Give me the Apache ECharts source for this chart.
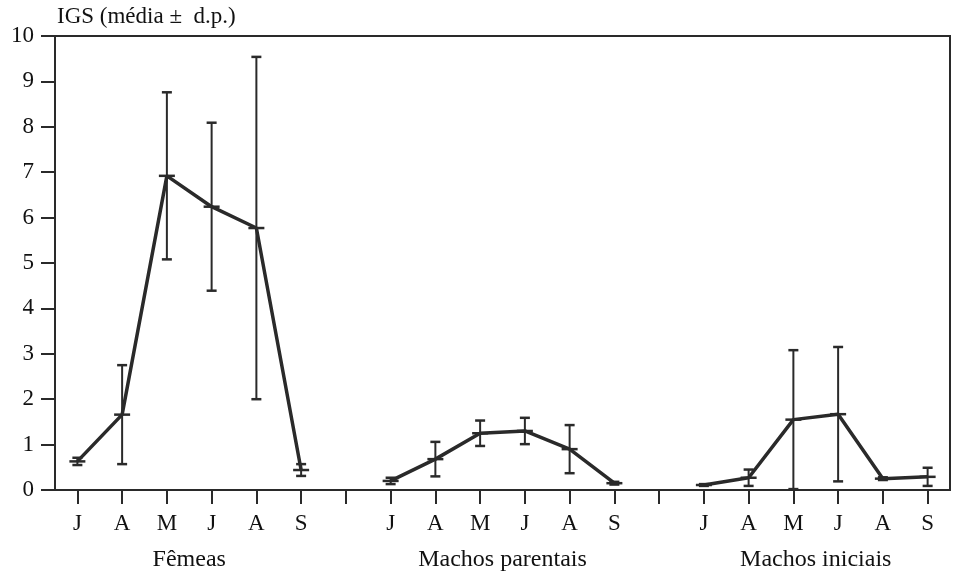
<!DOCTYPE html>
<html>
<head>
<meta charset="utf-8">
<script src="https://cdn.jsdelivr.net/npm/echarts@6/dist/echarts.min.js"></script>
<style>
  html, body { margin: 0; padding: 0; background: #fff; }
  #chart { width: 953px; height: 578px; }
</style>
</head>
<body>
<div id="chart"></div>
<script>
// Months shown under each group
const months = ['J', 'A', 'M', 'J', 'A', 'S'];
const groups = ['Fêmeas', 'Machos parentais', 'Machos iniciais'];

// IGS mean and standard deviation per month
const femeasMean = [0.63, 1.66, 6.92, 6.24, 5.77, 0.44];
const femeasSd = [0.08, 1.09, 1.84, 1.85, 3.77, 0.13];
const parentaisMean = [0.20, 0.68, 1.25, 1.30, 0.90, 0.15];
const parentaisSd = [0.07, 0.38, 0.28, 0.29, 0.53, 0.03];
const iniciaisMean = [0.11, 0.27, 1.55, 1.67, 0.25, 0.29];
const iniciaisSd = [0.02, 0.18, 1.53, 1.48, 0.03, 0.20];

const yTicks = [0, 1, 2, 3, 4, 5, 6, 7, 8, 9, 10];

const FONT = '"Liberation Serif", "DejaVu Serif", serif';
const INK = '#2a2a2a';

// each group takes 6 slots plus one empty slot as separator
const slot = (g, i) => g * 7 + i + 1;
const allSlots = [];
const labelSlots = [];
groups.forEach((g, gi) => {
    months.forEach((m, i) => labelSlots.push(slot(gi, i)));
});
for (let s = 1; s <= groups.length * 7 - 1; s++) allSlots.push(s);
const groupCenters = groups.map((g, gi) => (slot(gi, 0) + slot(gi, months.length - 1)) / 2);

const seriesSets = [
    [femeasMean, femeasSd],
    [parentaisMean, parentaisSd],
    [iniciaisMean, iniciaisSd],
];

const series = [];
seriesSets.forEach(([mean, sd], gi) => {
    series.push({
        type: 'line',
        data: mean.map((v, i) => [slot(gi, i), v]),
        symbol: 'none',
        lineStyle: { color: INK, width: 3.5 },
        z: 3,
    });
    series.push({
        type: 'custom',
        data: mean.map((v, i) => [slot(gi, i), v, v - sd[i], v + sd[i]]),
        renderItem: (params, api) => {
            const x = api.value(0);
            const mid = api.coord([x, api.value(1)]);
            const lo = api.coord([x, Math.max(0, api.value(2))]);
            const hi = api.coord([x, api.value(3)]);
            const cap = 5;
            const dash = 8;
            const style = { stroke: INK, lineWidth: 2 };
            const bold = { stroke: INK, lineWidth: 2.5 };
            return {
                type: 'group',
                children: [
                    { type: 'line', shape: { x1: lo[0], y1: lo[1], x2: hi[0], y2: hi[1] }, style },
                    { type: 'line', shape: { x1: hi[0] - cap, y1: hi[1], x2: hi[0] + cap, y2: hi[1] }, style: bold },
                    { type: 'line', shape: { x1: lo[0] - cap, y1: lo[1], x2: lo[0] + cap, y2: lo[1] }, style: bold },
                    { type: 'line', shape: { x1: mid[0] - dash, y1: mid[1], x2: mid[0] + dash, y2: mid[1] }, style: bold },
                ],
            };
        },
        z: 4,
    });
});

const chart = echarts.init(document.getElementById('chart'));
const xMin = 0.5;
const xMax = groups.length * 7 - 0.5;

chart.setOption({
    backgroundColor: '#fff',
    animation: false,
    grid: {
        left: 55, right: 3, top: 36, bottom: 88,
        show: true, borderColor: INK, borderWidth: 2,
    },
    xAxis: [{
        type: 'value',
        min: xMin,
        max: xMax,
        axisLine: { lineStyle: { color: INK, width: 2 } },
        splitLine: { show: false },
        axisTick: {
            customValues: allSlots,
            length: 14,
            lineStyle: { color: INK, width: 2 },
        },
        axisLabel: {
            customValues: labelSlots,
            formatter: (v) => months[(Math.round(v) - 1) % 7],
            margin: 22,
            color: '#111',
            fontFamily: FONT,
            fontSize: 23,
        },
    }, {
        type: 'value',
        position: 'bottom',
        min: xMin,
        max: xMax,
        axisLine: { show: false },
        axisTick: { show: false },
        splitLine: { show: false },
        axisLabel: {
            customValues: groupCenters,
            formatter: (v) => groups[groupCenters.indexOf(v)],
            margin: 58,
            color: '#111',
            fontFamily: FONT,
            fontSize: 24,
        },
    }],
    yAxis: {
        type: 'value',
        min: yTicks[0],
        max: yTicks[yTicks.length - 1],
        interval: 1,
        name: 'IGS (média ±  d.p.)',
        nameLocation: 'end',
        nameGap: 8,
        nameTextStyle: {
            align: 'left',
            color: '#111',
            fontFamily: FONT,
            fontSize: 23,
            padding: [0, 0, 0, 2],
        },
        axisLine: { show: true, lineStyle: { color: INK, width: 2 } },
        splitLine: { show: false },
        axisTick: { show: true, length: 14, lineStyle: { color: INK, width: 2 } },
        axisLabel: {
            margin: 21,
            color: '#111',
            fontFamily: FONT,
            fontSize: 23,
        },
    },
    series: series,
});
</script>
</body>
</html>
